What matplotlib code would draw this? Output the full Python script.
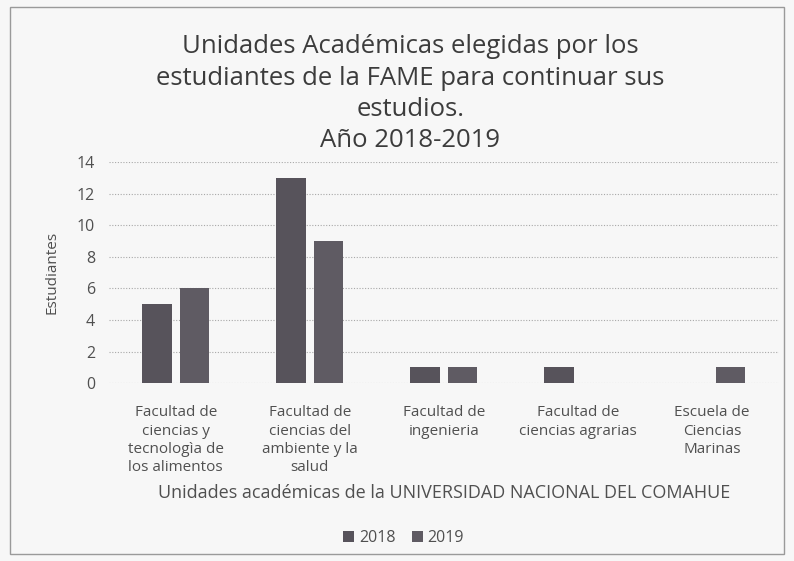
import matplotlib
matplotlib.use("Agg")
import matplotlib.pyplot as plt
import numpy as np
from matplotlib.patches import Rectangle

categories = ["Facultad de\nciencias y\ntecnologìa de\nlos alimentos",
              "Facultad de\nciencias del\nambiente y la\nsalud",
              "Facultad de\ningenieria",
              "Facultad de\nciencias agrarias",
              "Escuela de\nCiencias\nMarinas"]
v2018 = [5, 13, 1, 1, 0]
v2019 = [6, 9, 1, 0, 1]
yticks = [0, 2, 4, 6, 8, 10, 12, 14]

plt.rcParams['font.family'] = ['Open Sans', 'DejaVu Sans']
txt = '#505050'

fig = plt.figure(figsize=(7.94, 5.61), dpi=100, facecolor='#f7f7f7')
fig.patches.append(Rectangle((0.012, 0.012), 0.976, 0.975, transform=fig.transFigure,
                             fill=False, edgecolor='#9a9a9a', lw=1.0, zorder=-1))
ax = fig.add_axes([0.137, 0.317, 0.844, 0.394])
ax.set_facecolor('none')
x = np.arange(len(categories))
w = 0.22
ax.bar(x - 0.14, v2018, w, color='#57535b', label='2018')
ax.bar(x + 0.14, v2019, w, color='#5f5b63', label='2019')
ax.set_xlim(-0.5, len(categories) - 0.5)
ax.set_ylim(0, 14)
ax.set_yticks(yticks)
ax.yaxis.grid(True, linestyle=(0, (1, 1.5)), color='#a8a8a8', lw=0.8)
ax.set_axisbelow(True)
for s in ax.spines.values():
    s.set_visible(False)
ax.tick_params(axis='both', length=0, colors=txt, labelsize=11.5)
ax.tick_params(axis='y', pad=10)
ax.tick_params(axis='x', pad=16)
ax.set_xticks(x)
ax.set_xticklabels(categories, fontsize=11, color=txt, linespacing=1.3)
ax.set_ylabel('Estudiantes', fontsize=11, color=txt, labelpad=12)
ax.set_xlabel('Unidades académicas de la UNIVERSIDAD NACIONAL DEL COMAHUE',
              fontsize=13, color=txt, labelpad=6)
fig.text(0.517, 0.727, 'Unidades Académicas elegidas por los\nestudiantes de la FAME para continuar sus\nestudios.\nAño 2018-2019',
         ha='center', va='bottom', fontsize=18.5, color='#3c3c3c', linespacing=1.33)
leg = ax.legend(loc='upper center', bbox_to_anchor=(0.44, -0.60), ncol=2, frameon=False,
                fontsize=11.5, handlelength=0.7, handleheight=0.7, handletextpad=0.3,
                columnspacing=1.0)
for t in leg.get_texts():
    t.set_color(txt)
fig.savefig('out.png', dpi=100, facecolor=fig.get_facecolor())
